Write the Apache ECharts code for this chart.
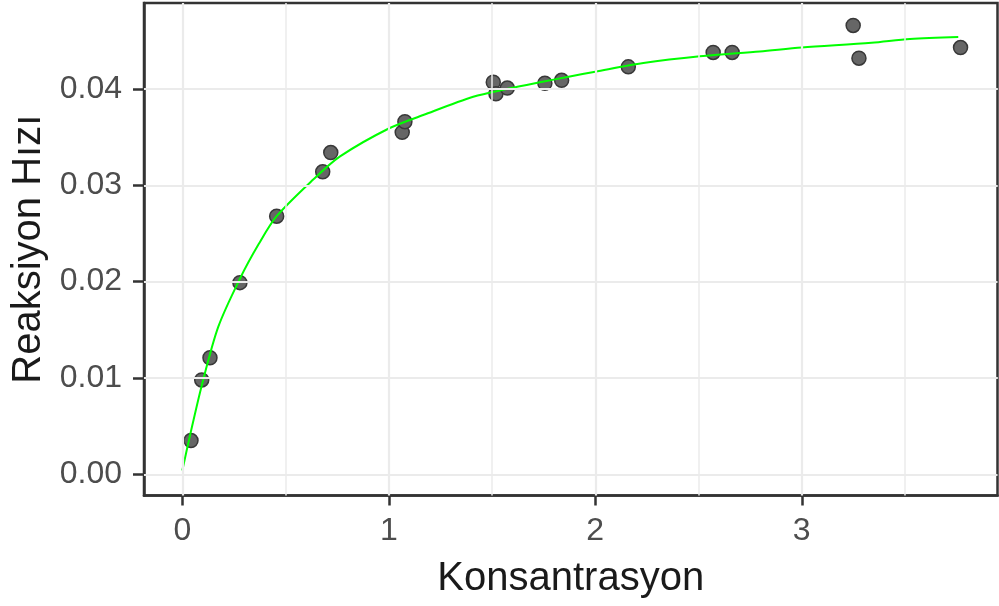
<!DOCTYPE html>
<html>
<head>
<meta charset="utf-8">
<script src="https://cdn.jsdelivr.net/npm/echarts@6/dist/echarts.min.js"></script>
<style>html,body{margin:0;padding:0;background:#fff;}#c{width:999px;height:606px;}</style>
</head>
<body>
<div id="c"></div>
<script>
// Observed points: concentration (x) and reaction rate (y)
const konsantrasyon = [0.042, 0.094, 0.134, 0.279, 0.457, 0.680, 0.719, 1.065, 1.078, 1.506, 1.519, 1.574, 1.756, 1.837, 2.160, 2.571, 2.663, 3.249, 3.277, 3.769];
const hiz = [0.0035, 0.0098, 0.0121, 0.0199, 0.0268, 0.0314, 0.0334, 0.0355, 0.0366, 0.0407, 0.0395, 0.0401, 0.0406, 0.0409, 0.0423, 0.0438, 0.0438, 0.0466, 0.0432, 0.0443];
// Fitted curve
const fitX = [0.0, 0.037, 0.094, 0.174, 0.279, 0.37, 0.457, 0.634, 0.764, 1.0, 1.167, 1.409, 1.571, 1.732, 1.877, 2.0, 2.233, 2.507, 2.797, 3.0, 3.338, 3.524, 3.758];
const fitY = [0.0004, 0.0040, 0.0092, 0.0153, 0.0203, 0.0239, 0.0268, 0.0306, 0.0330, 0.0359, 0.0373, 0.0392, 0.0400, 0.0407, 0.0413, 0.0418, 0.0427, 0.0434, 0.0439, 0.0443, 0.0448, 0.0452, 0.0454];
// Axis ticks and grid lines
const xTicks = [0, 1, 2, 3];
const xMinor = [0.5, 1.5, 2.5, 3.5];
const yTicks = [0, 0.01, 0.02, 0.03, 0.04];
const yMinor = [0.005, 0.015, 0.025, 0.035, 0.045];

const font = 'Liberation Sans, Arial, sans-serif';
const chart = echarts.init(document.getElementById('c'), null, {renderer: 'canvas'});

const gridLines = [];
xMinor.forEach(v => gridLines.push({xAxis: v, lineStyle: {width: 1.5}}));
yMinor.forEach(v => gridLines.push({yAxis: v, lineStyle: {width: 1.5}}));
xTicks.forEach(v => gridLines.push({xAxis: v, lineStyle: {width: 2.2}}));
yTicks.forEach(v => gridLines.push({yAxis: v, lineStyle: {width: 2.2}}));

chart.setOption({
  animation: false,
  backgroundColor: '#fff',
  grid: {left: 144, right: 1.5, top: 3, bottom: 110.5, containLabel: false,
         show: true, borderColor: '#333', borderWidth: 2.5, backgroundColor: '#fff'},
  xAxis: {
    type: 'value', min: -0.1855, max: 3.948,
    name: 'Konsantrasyon', nameLocation: 'middle', nameGap: 63,
    nameTextStyle: {fontFamily: font, fontSize: 40, color: '#1a1a1a'},
    axisLine: {show: true, onZero: false, lineStyle: {color: '#333', width: 2.5}},
    axisTick: {show: true, length: 10, lineStyle: {color: '#333', width: 2.5}, customValues: xTicks},
    axisLabel: {show: true, margin: 20, fontFamily: font, fontSize: 32, color: '#4d4d4d', customValues: xTicks,
                formatter: v => String(v)},
    splitLine: {show: false}
  },
  yAxis: {
    type: 'value', min: -0.0022, max: 0.04893,
    name: 'Reaksiyon Hızı', nameLocation: 'middle', nameGap: 91, nameRotate: 90,
    nameTextStyle: {fontFamily: font, fontSize: 40, color: '#1a1a1a'},
    axisLine: {show: true, onZero: false, lineStyle: {color: '#333', width: 2.5}},
    axisTick: {show: true, length: 11, lineStyle: {color: '#333', width: 2.5}, customValues: yTicks},
    axisLabel: {show: true, margin: 22, fontFamily: font, fontSize: 32, color: '#4d4d4d', customValues: yTicks,
                formatter: v => v.toFixed(2)},
    splitLine: {show: false}
  },
  series: [
    {
      type: 'line', data: [], z: 0, silent: true,
      markLine: {silent: true, symbol: 'none', label: {show: false}, animation: false,
                 lineStyle: {color: '#ebebeb', type: 'solid'}, data: gridLines}
    },
    {
      type: 'scatter', z: 2, symbolSize: 14,
      itemStyle: {color: '#666666', borderColor: '#383838', borderWidth: 1.5, opacity: 1},
      data: konsantrasyon.map((x, i) => [x, hiz[i]])
    },
    {
      type: 'line', z: 3, smooth: 0.3, showSymbol: false,
      lineStyle: {color: '#00ff00', width: 2},
      data: fitX.map((x, i) => [x, fitY[i]])
    }
  ]
});
</script>
</body>
</html>
